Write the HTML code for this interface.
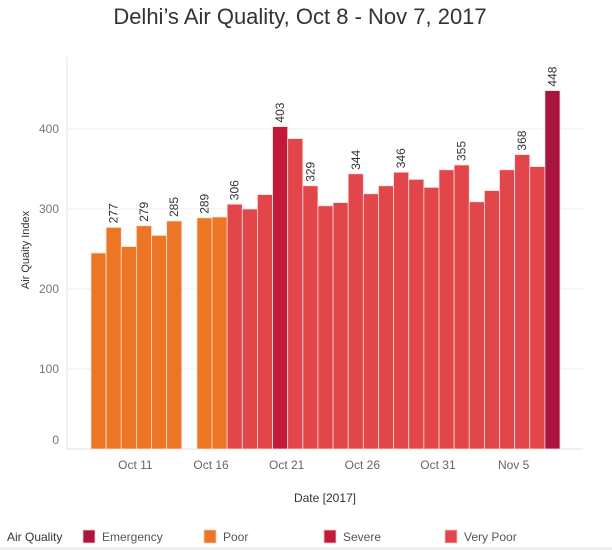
<!DOCTYPE html>
<html>
<head>
<meta charset="utf-8">
<style>
  html,body{margin:0;padding:0;background:#fff;}
  body{width:612px;height:550px;overflow:hidden;position:relative;font-family:"Liberation Sans",sans-serif;}
  #title{position:absolute;left:0;width:600px;top:4px;text-align:center;font-size:22px;color:#333;}
  #footer{position:absolute;left:0;top:547px;width:612px;height:3px;background:#f0f0f0;}
</style>
</head>
<body>
<div id="title">Delhi’s Air Quality, Oct 8 - Nov 7, 2017</div>
<svg id="chart" width="612" height="550" style="position:absolute;left:0;top:0"></svg>
<div id="footer"></div>
<script>
// Day offsets from Oct 8, 2017 (Oct 14 missing)
const dayIndex = [0,1,2,3,4,5, 7,8,9,10,11,12,13,14,15,16,17,18,19,20,21,22,23,24,25,26,27,28,29,30];
const aqiValues = [245,277,253,279,267,285, 289,290,306,300,318,403,388,329,304,308,344,319,329,346,337,327,349,355,309,323,349,368,353,448];
const categories = ["Poor","Poor","Poor","Poor","Poor","Poor","Poor","Poor","Very Poor","Very Poor","Very Poor","Severe","Very Poor","Very Poor","Very Poor","Very Poor","Very Poor","Very Poor","Very Poor","Very Poor","Very Poor","Very Poor","Very Poor","Very Poor","Very Poor","Very Poor","Very Poor","Very Poor","Very Poor","Emergency"];
const labelledBars = [1,3,5,6,8,11,13,16,19,23,27,29];
const yTicks = [0,100,200,300,400];
const xTickLabels = ["Oct 11","Oct 16","Oct 21","Oct 26","Oct 31","Nov 5"];
const xTickDays = [3,8,13,18,23,28];
const legendNames = ["Emergency","Poor","Severe","Very Poor"];

const colors = {"Poor":"#ec7624","Very Poor":"#e2454a","Severe":"#c11a3b","Emergency":"#aa1540"};
const svg = document.getElementById('chart');
const NS = "http://www.w3.org/2000/svg";
const X0 = 91, PITCH = 15.13, Y0 = 449, YS = 0.8;
function x(d){ return X0 + d*PITCH; }
function y(v){ return Y0 - v*YS; }
function mk(tag, attrs, parent){ const e=document.createElementNS(NS,tag); for(const k in attrs) e.setAttribute(k,attrs[k]); (parent||svg).appendChild(e); return e; }

// axis line
const ax = mk('line',{x1:67,y1:57,x2:67,y2:Y0,stroke:'#e6e6e6','stroke-width':1});


yTicks.forEach(t=>{
  const g = mk('line',{x1:67,y1:y(t),x2:583,y2:y(t),stroke:t===0?'#e0e0e0':'#ececec','stroke-width':1});
  
  
  const lt = mk('text',{x:59,y:(t===0?y(t)-9:y(t))+4,'text-anchor':'end','font-size':12,fill:'#777'});
  lt.textContent = t;
  
  
});
const yt = mk('text',{x:0,y:0,'text-anchor':'middle','font-size':11,fill:'#333',transform:'translate(29,250) rotate(-90)'});
yt.textContent = 'Air Quaity Index';



aqiValues.forEach((v,i)=>{
  const d = dayIndex[i];
  const r = mk('rect',{x:x(d),y:y(v),width:PITCH,height:Y0-y(v),fill:colors[categories[i]],stroke:'#fbe0dc','stroke-width':0.8});
  
  
  if(labelledBars.includes(i)){
    const cx = x(d)+PITCH/2+4, ty = y(v)-4;
    const t = mk('text',{x:0,y:0,'font-size':12,fill:'#333',transform:`translate(${cx},${ty}) rotate(-90)`});
    t.textContent = v;
    
    
  }
});

xTickLabels.forEach((lab,i)=>{
  const t = mk('text',{x:x(xTickDays[i])-1,y:469,'text-anchor':'middle','font-size':12,fill:'#666'});
  t.textContent = lab;
  
  
});
const xt = mk('text',{x:325,y:502,'text-anchor':'middle','font-size':12,fill:'#333'});
xt.textContent = 'Date [2017]';



const lh = mk('text',{x:7,y:541,'font-size':12,fill:'#333'});
lh.textContent = 'Air Quality';


const legX = [83,204,324,445];
legendNames.forEach((n,i)=>{
  const s = mk('rect',{x:legX[i],y:530,width:12,height:13,fill:colors[n],stroke:'#f3c9c4','stroke-width':0.8});
  
  
  const t = mk('text',{x:legX[i]+19,y:541,'font-size':12,fill:'#555'});
  t.textContent = n;
  
  
});
</script>
</body>
</html>
